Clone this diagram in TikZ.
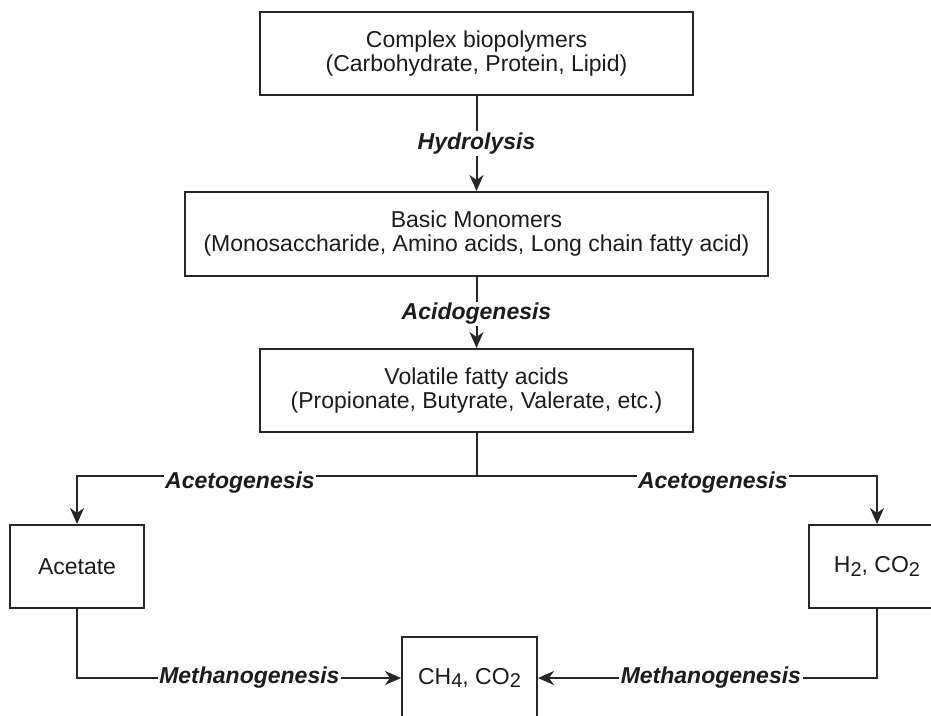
\documentclass[tikz,border=0pt]{standalone}
\usepackage{fontspec}
\setmainfont{Liberation Sans}
\usepackage{xcolor}
\usepackage{tikz}
\usetikzlibrary{arrows.meta,positioning}
\definecolor{digestInk}{HTML}{262626}
\definecolor{digestText}{HTML}{1C1C1C}
\newcommand{\chemsub}[1]{\raisebox{-0.32ex}{\fontsize{20}{20}\selectfont #1}}

\begin{document}
\begin{tikzpicture}[
  x=1pt, y=-1pt,
  font=\fontsize{23}{24}\selectfont,
  box/.style={draw=digestInk, line width=2pt, minimum height=83pt, align=center, fill=white, text=digestText, inner sep=0pt},
  stage/.style={font=\fontsize{23}{24}\selectfont\bfseries\itshape, fill=white, text=digestText, inner sep=1.5pt},
  link/.style={line width=2pt, draw=digestInk},
  flow/.style={link, -{Stealth[length=16pt, width=14pt, inset=5pt]}}
]
  \useasboundingbox (0,0) rectangle (931,715);

  \node[box, minimum width=433pt] (biopoly) at (476.5,53.5) {Complex biopolymers\\(Carbohydrate, Protein, Lipid)};
  \node[box, minimum width=583pt, minimum height=84pt, below=95pt of biopoly] (monomers) {Basic Monomers\\(Monosaccharide, Amino acids, Long chain fatty acid)};
  \node[box, minimum width=433pt, below=71pt of monomers] (vfa) {Volatile fatty acids\\(Propionate, Butyrate, Valerate, etc.)};
  \coordinate (split) at (476.5,476);

  \node[box, minimum width=134pt] (acetate) at (77,566.5) {Acetate};
  \node[box, minimum width=136pt] (hydrogen) at (877,566.5) {H\chemsub{2}, CO\chemsub{2}};
  \node[box, minimum width=135pt] (methane) at (469.5,678) {CH\chemsub{4}, CO\chemsub{2}};

  \draw[flow] (biopoly) -- node[stage]{Hydrolysis} (monomers);
  \draw[flow] (monomers) -- node[stage, yshift=-1.5pt]{Acidogenesis} (vfa);
  \draw[link] (vfa) -- (split);
  \draw[flow] (split) -| node[stage, pos=0.296, yshift=-7pt]{Acetogenesis} (acetate);
  \draw[flow] (split) -| node[stage, pos=0.295, yshift=-7pt]{Acetogenesis} (hydrogen);
  \draw[flow] (acetate) |- node[stage, pos=0.766]{Methanogenesis} (methane);
  \draw[flow] (hydrogen) |- node[stage, pos=0.745]{Methanogenesis} (methane);
\end{tikzpicture}
\end{document}
